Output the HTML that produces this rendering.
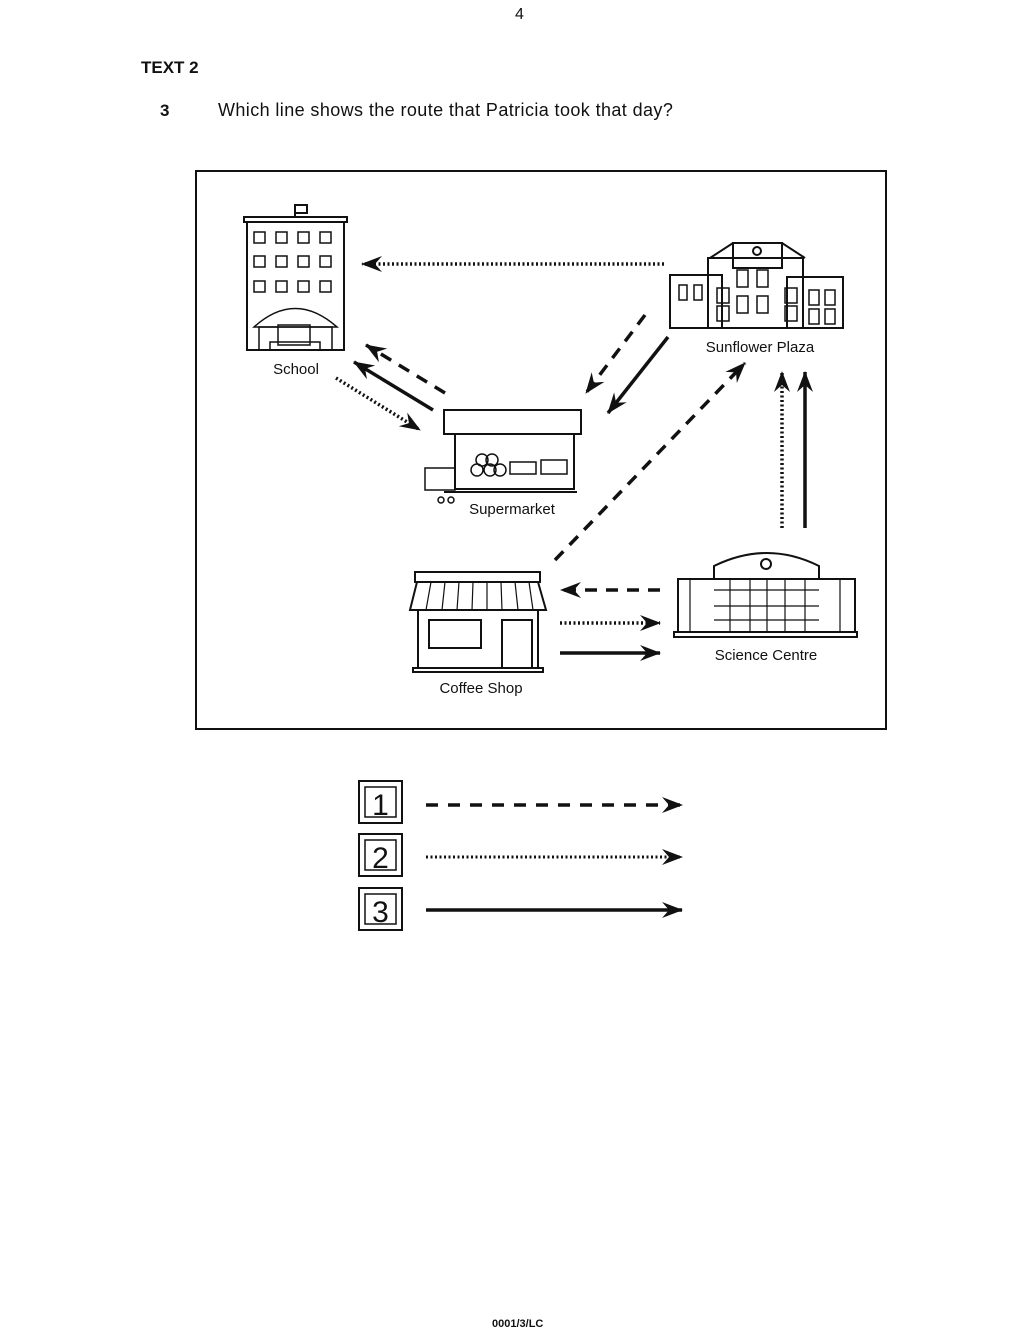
<!DOCTYPE html>
<html><head><meta charset="utf-8"><style>
html,body{margin:0;padding:0;background:#fff}
body{width:1024px;height:1342px;position:relative;overflow:hidden;font-family:"Liberation Sans",Arial,sans-serif;color:#111}
.t{position:absolute;white-space:nowrap}
</style></head><body>
<div class="t" style="left:515px;top:6px;font-size:16px">4</div>
<div class="t" style="left:141px;top:58px;font-size:17px;font-weight:bold">TEXT 2</div>
<div class="t" style="left:160px;top:101px;font-size:17px;font-weight:bold">3</div>
<div class="t" style="left:218px;top:100px;font-size:18px;letter-spacing:0.4px">Which line shows the route that Patricia took that day?</div>
<div class="t" style="left:492px;top:1318px;font-size:11px;font-weight:bold">0001/3/LC</div>
<svg width="1024" height="1342" style="position:absolute;left:0;top:0" xmlns="http://www.w3.org/2000/svg">
<defs>
<marker id="a" viewBox="-20 -10 25 20" refX="2" refY="0" markerWidth="25" markerHeight="20" markerUnits="userSpaceOnUse" orient="auto">
<path d="M-18,-8 L3,0 L-18,8 L-11,0 Z" fill="#111" stroke="none"/>
</marker>
</defs>
<rect x="196" y="171" width="690" height="558" fill="none" stroke="#111" stroke-width="2"/>
<g stroke="#111" fill="none" stroke-width="2">
<rect x="244" y="217" width="103" height="5"/>
<rect x="247" y="222" width="97" height="128"/>
<line x1="295" y1="217" x2="295" y2="205"/><rect x="295" y="205" width="12" height="8"/>
<g stroke-width="1.5">
<rect x="254" y="232" width="11" height="11"/><rect x="276" y="232" width="11" height="11"/><rect x="298" y="232" width="11" height="11"/><rect x="320" y="232" width="11" height="11"/>
<rect x="254" y="256" width="11" height="11"/><rect x="276" y="256" width="11" height="11"/><rect x="298" y="256" width="11" height="11"/><rect x="320" y="256" width="11" height="11"/>
<rect x="254" y="281" width="11" height="11"/><rect x="276" y="281" width="11" height="11"/><rect x="298" y="281" width="11" height="11"/><rect x="320" y="281" width="11" height="11"/>
<path d="M254,327 Q295,290 337,327 Z"/><rect x="259" y="327" width="73" height="23"/>
<rect x="278" y="325" width="32" height="20"/><rect x="270" y="342" width="50" height="8"/>
</g>
<rect x="670" y="275" width="52" height="53"/><rect x="787" y="277" width="56" height="51"/>
<rect x="708" y="258" width="95" height="70"/><path d="M710,258 L733,243 L782,243 L805,258"/>
<rect x="733" y="243" width="49" height="25"/><circle cx="757" cy="251" r="4"/>
<g stroke-width="1.5">
<rect x="679" y="285" width="8" height="15"/><rect x="694" y="285" width="8" height="15"/>
<rect x="737" y="270" width="11" height="17"/><rect x="757" y="270" width="11" height="17"/>
<rect x="737" y="296" width="11" height="17"/><rect x="757" y="296" width="11" height="17"/>
<rect x="717" y="288" width="12" height="15"/><rect x="717" y="306" width="12" height="15"/>
<rect x="785" y="288" width="12" height="15"/><rect x="785" y="306" width="12" height="15"/>
<rect x="809" y="290" width="10" height="15"/><rect x="825" y="290" width="10" height="15"/>
<rect x="809" y="309" width="10" height="15"/><rect x="825" y="309" width="10" height="15"/>
</g>
<rect x="444" y="410" width="137" height="24"/><rect x="455" y="434" width="119" height="55"/>
<line x1="444" y1="492" x2="577" y2="492"/>
<g stroke-width="1.5">
<circle cx="482" cy="460" r="6"/><circle cx="492" cy="460" r="6"/><circle cx="477" cy="470" r="6"/><circle cx="490" cy="470" r="6"/><circle cx="500" cy="470" r="6"/>
<rect x="510" y="462" width="26" height="12"/><rect x="541" y="460" width="26" height="14"/>
<rect x="425" y="468" width="30" height="22"/><circle cx="441" cy="500" r="3"/><circle cx="451" cy="500" r="3"/>
</g>
<rect x="415" y="572" width="125" height="10"/>
<path d="M417,582 L410,610 L546,610 L538,582"/>
<rect x="418" y="610" width="120" height="58"/><rect x="413" y="668" width="130" height="4"/>
<rect x="429" y="620" width="52" height="28"/><rect x="502" y="620" width="30" height="48"/>
<g stroke-width="1.2"><path d="M431,582 L426,610 M445,582 L442,610 M459,582 L457,610 M473,582 L472,610 M487,582 L487,610 M501,582 L502,610 M515,582 L518,610 M529,582 L533,610"/></g>
<rect x="678" y="579" width="177" height="53"/><rect x="674" y="632" width="183" height="5"/>
<path d="M714,579 L714,566 Q767,540 819,566 L819,579"/>
<g stroke-width="1.2"><path d="M714,590 L819,590 M714,606 L819,606 M714,620 L819,620 M730,580 L730,632 M750,580 L750,632 M767,580 L767,632 M785,580 L785,632 M805,580 L805,632 M690,580 L690,632 M840,580 L840,632"/></g>
<circle cx="766" cy="564" r="5"/>
</g>
<g stroke="#111" fill="none" stroke-width="3.5" marker-end="url(#a)">
<line x1="664" y1="264" x2="362" y2="264" stroke-dasharray="2 2.5"/>
<line x1="445" y1="393" x2="366" y2="345" stroke-dasharray="12 9"/>
<line x1="433" y1="410" x2="354" y2="362"/>
<line x1="336" y1="378" x2="420" y2="430" stroke-dasharray="2 2.5"/>
<line x1="645" y1="315" x2="586" y2="393" stroke-dasharray="12 9"/>
<line x1="668" y1="337" x2="608" y2="413"/>
<line x1="555" y1="560" x2="745" y2="363" stroke-dasharray="12 9"/>
<line x1="782" y1="528" x2="782" y2="372" stroke-dasharray="2 2.5"/>
<line x1="805" y1="528" x2="805" y2="372"/>
<line x1="660" y1="590" x2="561" y2="590" stroke-dasharray="12 9"/>
<line x1="560" y1="623" x2="660" y2="623" stroke-dasharray="2 2.5"/>
<line x1="560" y1="653" x2="660" y2="653"/>
<line x1="426" y1="805" x2="682" y2="805" stroke-dasharray="12 10"/>
<line x1="426" y1="857" x2="682" y2="857" stroke-dasharray="2 2.5" stroke-width="3"/>
<line x1="426" y1="910" x2="682" y2="910"/>
</g>
<g fill="none" stroke="#111" stroke-width="2">
<rect x="359" y="781" width="43" height="42"/><rect x="365" y="787" width="31" height="30" stroke-width="1.5"/>
<rect x="359" y="834" width="43" height="42"/><rect x="365" y="840" width="31" height="30" stroke-width="1.5"/>
<rect x="359" y="888" width="43" height="42"/><rect x="365" y="894" width="31" height="30" stroke-width="1.5"/>
</g>
<g font-family="Liberation Sans, Arial, sans-serif" fill="#111">
<text x="380.5" y="815" font-size="30" text-anchor="middle">1</text>
<text x="380.5" y="868" font-size="30" text-anchor="middle">2</text>
<text x="380.5" y="922" font-size="30" text-anchor="middle">3</text>
<text x="296" y="374" font-size="15" text-anchor="middle">School</text>
<text x="760" y="352" font-size="15" text-anchor="middle">Sunflower Plaza</text>
<text x="512" y="514" font-size="15" text-anchor="middle">Supermarket</text>
<text x="481" y="693" font-size="15" text-anchor="middle">Coffee Shop</text>
<text x="766" y="660" font-size="15" text-anchor="middle">Science Centre</text>
</g>
</svg>
</body></html>
